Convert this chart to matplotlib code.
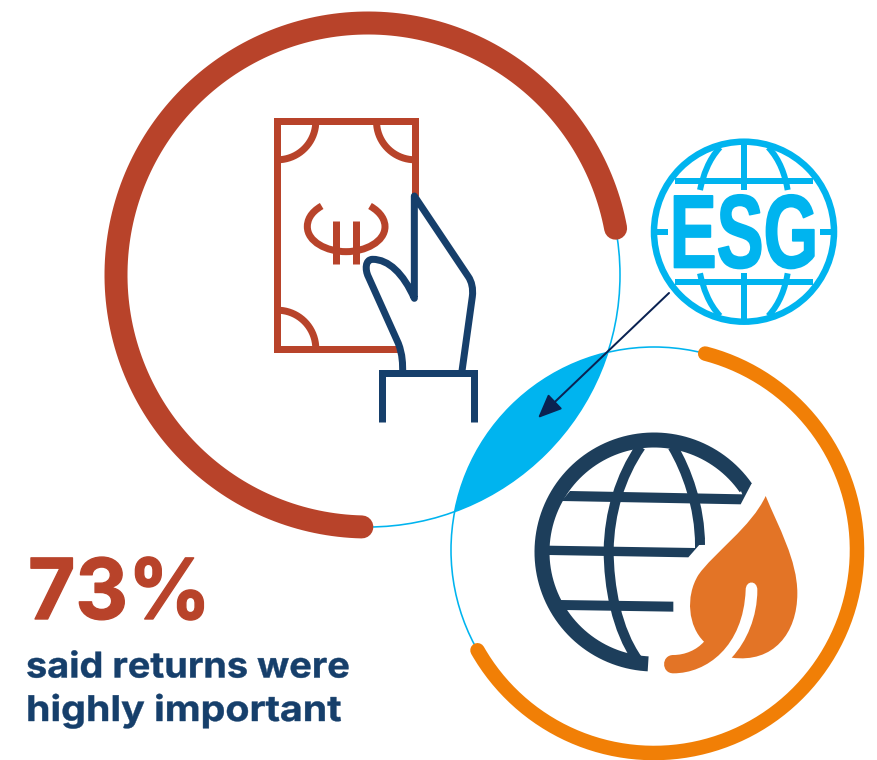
import numpy as np
import matplotlib
matplotlib.use('Agg')
import matplotlib.pyplot as plt
from matplotlib.patches import Circle, PathPatch
from matplotlib.path import Path
from matplotlib.patheffects import AbstractPathEffect
from matplotlib.transforms import Affine2D

# ----------------------------
# Values / texts
# ----------------------------
headline = '73%'
caption = ['said returns were', 'highly important']
badge = 'ESG'

# ring geometry: centre x, centre y, radius; arc start / end in degrees
big_ring = [368, 275, 252]
small_ring = [654, 550, 203]
big_arc = [10.7, 268.6]
small_arc = [75.4, -150.4]

RUST = '#b8432a'
ORANGE = '#f17f06'
LEAF = '#e37426'
SKY = '#00b4ef'
NAVY = '#163f6b'
GLOBE = '#1d3e5b'
ARROW = '#0a2252'

px = 0.72  # line widths are measured in pixels at dpi 100


class StretchX(AbstractPathEffect):
    # squeeze or widen a text round x0, with a little extra weight
    def __init__(self, sx, x0, weight=0.0):
        super().__init__()
        self.sx, self.x0, self.weight = sx, x0, weight

    def draw_path(self, renderer, gc, tpath, affine, rgbFace=None):
        t = Affine2D().translate(-self.x0, 0).scale(self.sx, 1).translate(self.x0, 0)
        gc0 = renderer.new_gc()
        gc0.copy_properties(gc)
        gc0.set_foreground(rgbFace)
        gc0.set_linewidth(self.weight)
        renderer.draw_path(gc0, tpath, affine + t, rgbFace)
        gc0.restore()


fig = plt.figure(figsize=(8.78, 7.6), dpi=100)
ax = fig.add_axes([0, 0, 1, 1])
ax.set_xlim(0, 878)
ax.set_ylim(760, 0)
ax.axis('off')


def arc(cx, cy, r, a0, a1, n=200):
    a = np.radians(np.linspace(a0, a1, n))
    return cx + r * np.cos(a), cy - r * np.sin(a)


def shape(ox, oy, start, *segs):
    # outline in 3x zoom coordinates; a seg is one point (line) or three (curve)
    verts, codes = [start], [Path.MOVETO]
    for seg in segs:
        if len(seg) == 1:
            verts += seg
            codes += [Path.LINETO]
        else:
            verts += seg
            codes += [Path.CURVE4] * 3
    verts = [(ox + x / 3, oy + y / 3) for x, y in verts]
    return Path(verts, codes)


def stroke(path, color, w, cap='butt', join='round', z=3):
    ax.add_patch(PathPatch(path, fc='none', ec=color, lw=w * px, capstyle=cap, joinstyle=join, zorder=z))


def fill(path, color, z=3):
    ax.add_patch(PathPatch(path, fc=color, ec='none', zorder=z))


# ----------------------------
# Rings and overlap
# ----------------------------
lens = Circle(big_ring[:2], big_ring[2], fc=SKY, ec='none', zorder=1)
ax.add_patch(lens)
lens.set_clip_path(Circle(small_ring[:2], small_ring[2], transform=ax.transData))

for ring in (big_ring, small_ring):
    ax.add_patch(Circle(ring[:2], ring[2], fc='none', ec=SKY, lw=1.6 * px, zorder=2))

ax.plot(*arc(*big_ring, *big_arc), color=RUST, lw=23 * px, solid_capstyle='round', zorder=3)
ax.plot(*arc(*small_ring, *small_arc), color=ORANGE, lw=14.5 * px, solid_capstyle='round', zorder=3)

# ----------------------------
# Banknote and hand
# ----------------------------
ox, oy = 260, 100
stroke(shape(ox, oy, (465, 288), [(465, 64)], [(52, 64)], [(52, 746)], [(417, 746)]), RUST, 7, join='miter')
for cx, cy, a0, a1 in [(277.3, 121.3, -90, 0), (415, 121.3, 180, 270), (277.3, 348.7, 0, 90)]:
    ax.plot(*arc(cx, cy, 38.5, a0, a1), color=RUST, lw=7 * px, solid_capstyle='butt', zorder=3)
stroke(shape(ox, oy, (185, 318),
             [(150, 338), (142, 362), (142, 380)],
             [(142, 425), (200, 455), (258, 455)],
             [(316, 455), (375, 425), (375, 380)],
             [(375, 362), (365, 338), (330, 318)]), RUST, 7)
stroke(shape(ox, oy, (227, 363), [(227, 493)]), RUST, 7)
stroke(shape(ox, oy, (287, 363), [(287, 493)]), RUST, 7)

stroke(shape(ox, oy, (366, 967), [(366, 820)], [(642, 820)], [(642, 967)]), NAVY, 7, join='miter', z=4)
stroke(shape(ox, oy, (605, 820), [(637, 590)],
             [(640, 565), (635, 545), (625, 530)],
             [(463, 288)], [(463, 595)],
             [(430, 520), (385, 478), (338, 478)],
             [(315, 478), (315, 510), (325, 530)],
             [(415, 730)],
             [(428, 765), (428, 790), (428, 820)]), NAVY, 7, cap='round', z=4)

# ----------------------------
# ESG globe
# ----------------------------
ox, oy = 640, 130
ax.add_patch(Circle((744, 231.7), 90, fc='none', ec=SKY, lw=6.5 * px, zorder=3))
for y, half in [(152, 208), (457, 208)]:
    stroke(shape(ox, oy, (312 - half, y), [(312 + half, y)]), SKY, 6)
stroke(shape(ox, oy, (312, 40), [(312, 180)]), SKY, 6)
stroke(shape(ox, oy, (312, 430), [(312, 570)]), SKY, 6)
stroke(shape(ox, oy, (40, 305), [(85, 305)]), SKY, 6)
stroke(shape(ox, oy, (540, 305), [(585, 305)]), SKY, 6)
stroke(shape(ox, oy, (240, 52), [(205, 90), (190, 135), (180, 180)]), SKY, 6)
stroke(shape(ox, oy, (385, 52), [(420, 90), (435, 135), (443, 180)]), SKY, 6)
stroke(shape(ox, oy, (180, 430), [(190, 475), (205, 520), (240, 558)]), SKY, 6)
stroke(shape(ox, oy, (443, 430), [(435, 475), (420, 520), (385, 558)]), SKY, 6)
ax.text(744, 267.5, badge, family='Liberation Sans', weight='bold', fontsize=75, color=SKY,
        ha='center', va='baseline', zorder=5, path_effects=[StretchX(0.675, 744, 1.2)])

ax.annotate('', xy=(538, 418), xytext=(669, 293), zorder=6,
            arrowprops=dict(arrowstyle='-|>,head_length=1.05,head_width=0.45', color=ARROW,
                            lw=2 * px, shrinkA=0, shrinkB=0, mutation_scale=14))

# ----------------------------
# Globe and leaf
# ----------------------------
ox, oy = 520, 420
ax.plot(*arc(654, 552, 112, 35, 267), color=GLOBE, lw=15 * px, solid_capstyle='butt', zorder=3)
stroke(shape(ox, oy, (362, 80), [(300, 170), (268, 280), (266, 390)],
             [(266, 500), (290, 630), (352, 718)]), GLOBE, 10)
stroke(shape(ox, oy, (458, 80), [(500, 150), (540, 260), (540, 375)]), GLOBE, 10)
fill(shape(ox, oy, (150, 213), [(667, 223)], [(645, 170)], [(695, 190)], [(662, 253)], [(125, 243)]), GLOBE)
fill(shape(ox, oy, (85, 377), [(525, 384)], [(525, 350)], [(555, 355)], [(505, 412)], [(85, 405)]), GLOBE)
fill(shape(ox, oy, (120, 540), [(460, 545)], [(460, 575)], [(135, 570)]), GLOBE)

fill(shape(ox, oy, (737, 228),
           [(775, 320), (832, 420), (832, 520)],
           [(832, 640), (760, 730), (635, 713)],
           [(680, 665), (712, 590), (712, 510)],
           [(712, 480), (677, 480), (677, 510)],
           [(670, 680), (560, 760), (460, 760)],
           [(423, 760), (423, 705), (460, 705)],
           [(495, 705), (530, 690), (552, 665)],
           [(505, 620), (495, 530), (535, 465)],
           [(580, 400), (695, 320), (737, 228)]), LEAF)

# ----------------------------
# Text
# ----------------------------
ax.text(28, 619, headline, family='Inter', weight='bold', fontsize=60.5, color=RUST, ha='left', va='baseline',
        path_effects=[StretchX(0.97, 28, 1.0)])
ax.text(26, 677.5, caption[0], family='Inter', weight='bold', fontsize=25.5, color=NAVY, ha='left', va='baseline',
        path_effects=[StretchX(1.07, 26, 0.3)])
ax.text(26, 721, caption[1], family='Inter', weight='bold', fontsize=25.5, color=NAVY, ha='left', va='baseline',
        path_effects=[StretchX(1.11, 26, 0.3)])

fig.savefig('out.png', dpi=100)
